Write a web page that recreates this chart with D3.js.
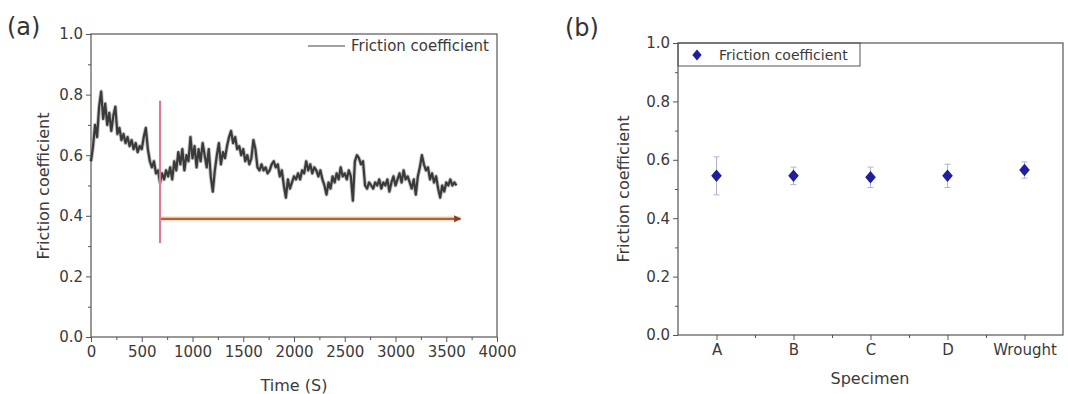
<!DOCTYPE html>
<html><head><meta charset="utf-8">
<script src="https://cdn.jsdelivr.net/npm/d3@7"></script>
<style>
html,body{margin:0;padding:0;background:#fff;}
svg{display:block;font-family:"DejaVu Sans",sans-serif;}
</style></head><body>
<svg id="c" width="1068" height="394"></svg>
<script>
// ---------- Panel (a): friction coefficient vs time ----------
const frictionTime = [0,20,40,60,80,100,120,140,160,180,200,220,240,260,280,300,320,340,360,380,400,420,440,460,480,500,520,540,560,580,600,620,640,660,680,700,720,740,760,780,800,820,840,860,880,900,920,940,960,980,1000,1020,1040,1060,1080,1100,1120,1140,1160,1180,1200,1220,1240,1260,1280,1300,1320,1340,1360,1380,1400,1420,1440,1460,1480,1500,1520,1540,1560,1580,1600,1620,1640,1660,1680,1700,1720,1740,1760,1780,1800,1820,1840,1860,1880,1900,1920,1940,1960,1980,2000,2020,2040,2060,2080,2100,2120,2140,2160,2180,2200,2220,2240,2260,2280,2300,2320,2340,2360,2380,2400,2420,2440,2460,2480,2500,2520,2540,2560,2580,2600,2620,2640,2660,2680,2700,2720,2740,2760,2780,2800,2820,2840,2860,2880,2900,2920,2940,2960,2980,3000,3020,3040,3060,3080,3100,3120,3140,3160,3180,3200,3220,3240,3260,3280,3300,3320,3340,3360,3380,3400,3420,3440,3460,3480,3500,3520,3540,3560,3580,3600];
const frictionValue = [0.58,0.63,0.70,0.66,0.76,0.81,0.72,0.77,0.70,0.74,0.68,0.73,0.76,0.67,0.69,0.65,0.67,0.64,0.66,0.63,0.65,0.62,0.64,0.61,0.63,0.62,0.66,0.69,0.62,0.58,0.56,0.58,0.54,0.55,0.51,0.54,0.52,0.55,0.53,0.56,0.52,0.58,0.55,0.61,0.57,0.62,0.55,0.60,0.58,0.66,0.59,0.63,0.56,0.62,0.58,0.64,0.60,0.56,0.62,0.53,0.48,0.55,0.60,0.64,0.57,0.61,0.59,0.63,0.66,0.68,0.64,0.66,0.62,0.63,0.60,0.62,0.58,0.60,0.57,0.59,0.65,0.62,0.56,0.55,0.57,0.55,0.56,0.54,0.55,0.57,0.58,0.56,0.57,0.53,0.55,0.50,0.46,0.52,0.49,0.51,0.53,0.52,0.54,0.52,0.55,0.54,0.58,0.55,0.57,0.54,0.56,0.55,0.53,0.55,0.52,0.50,0.47,0.51,0.49,0.53,0.51,0.54,0.52,0.56,0.53,0.54,0.52,0.55,0.53,0.45,0.58,0.60,0.59,0.57,0.58,0.50,0.49,0.51,0.50,0.49,0.51,0.50,0.52,0.49,0.51,0.50,0.52,0.48,0.51,0.53,0.50,0.52,0.54,0.51,0.55,0.52,0.53,0.51,0.49,0.52,0.47,0.53,0.56,0.60,0.57,0.55,0.56,0.52,0.54,0.51,0.53,0.49,0.46,0.50,0.48,0.51,0.50,0.52,0.50,0.51,0.50];
const timeTicks = [0,500,1000,1500,2000,2500,3000,3500,4000];
const coefTicks = [0.0,0.2,0.4,0.6,0.8,1.0];
const markerTime = 680;            // red vertical marker
const markerRange = [0.31, 0.78];
const arrowLevel = 0.39;           // steady-state arrow
const arrowRange = [690, 3640];

// ---------- Panel (b): friction coefficient by specimen ----------
const specimens = ["A","B","C","D","Wrought"];
const specimenMean = [0.545,0.545,0.54,0.545,0.565];
const specimenErr  = [0.065,0.03,0.035,0.04,0.028];

const svg = d3.select("#c");
const axisCol = "#555", textCol = "#3a3a3a";

function frame(g, x0, x1, y0, y1){
  g.append("rect").attr("x",x0).attr("y",y1).attr("width",x1-x0).attr("height",y0-y1)
   .attr("fill","none").attr("stroke",axisCol).attr("stroke-width",1.2);
}

// squat diamond symbol (Origin-style)
const squatDiamond = {
  draw(ctx, size){
    const h = Math.sqrt(size)*0.78, w = h*0.85;
    ctx.moveTo(0,-h); ctx.lineTo(w,0); ctx.lineTo(0,h); ctx.lineTo(-w,0); ctx.closePath();
  }
};

// ===== Panel (a) =====
const xa = d3.scaleLinear().domain([0,4000]).range([91,497]);
const ya = d3.scaleLinear().domain([0,1]).range([337,34]);
const ga = svg.append("g");

ga.append("g").attr("transform","translate(0,337)")
  .call(d3.axisBottom(xa).tickValues(d3.range(250,4000,500)).tickSize(3).tickFormat(""))
  .call(g=>g.select(".domain").remove()).selectAll("line").attr("stroke",axisCol);
ga.append("g").attr("transform","translate(91,0)")
  .call(d3.axisLeft(ya).tickValues([0.1,0.3,0.5,0.7,0.9]).tickSize(3).tickFormat(""))
  .call(g=>g.select(".domain").remove()).selectAll("line").attr("stroke",axisCol);

const axA = ga.append("g").attr("transform","translate(0,337)")
  .call(d3.axisBottom(xa).tickValues(timeTicks).tickSize(5).tickPadding(4).tickFormat(d3.format("d")));
const ayA = ga.append("g").attr("transform","translate(91,0)")
  .call(d3.axisLeft(ya).tickValues(coefTicks).tickSize(5).tickPadding(3).tickFormat(d3.format(".1f")));
[axA, ayA].forEach(a=>{
  a.select(".domain").remove();
  a.selectAll("line").attr("stroke",axisCol);
  a.selectAll("text").attr("fill",textCol).style("font-size","15px").style("font-family","DejaVu Sans");
});
frame(ga, 91, 497, 337, 34);

// curve (thick noisy band)
const line = d3.line().x((d,i)=>xa(frictionTime[i])).y(d=>ya(d));
ga.append("path").datum(frictionValue).attr("d",line)
  .attr("fill","none").attr("stroke","#9a9a9a").attr("stroke-width",4).attr("stroke-linejoin","round").attr("opacity",0.6);
ga.append("path").datum(frictionValue).attr("d",line)
  .attr("fill","none").attr("stroke","#3a3a3a").attr("stroke-width",2.2).attr("stroke-linejoin","round");

// red marker line
ga.append("line").attr("x1",xa(markerTime)).attr("x2",xa(markerTime))
  .attr("y1",ya(markerRange[1])).attr("y2",ya(markerRange[0]))
  .attr("stroke","#e07a90").attr("stroke-width",2.2);

// orange arrow
const defs = svg.append("defs");
defs.append("marker").attr("id","ah").attr("viewBox","0 0 10 10").attr("refX",9).attr("refY",5)
  .attr("markerWidth",5.5).attr("markerHeight",3.2).attr("orient","auto").attr("markerUnits","strokeWidth")
  .append("path").attr("d","M0,0L10,5L0,10z").attr("fill","#7e4424");
ga.append("line").attr("x1",xa(arrowRange[0])).attr("x2",xa(arrowRange[1]))
  .attr("y1",ya(arrowLevel)).attr("y2",ya(arrowLevel))
  .attr("stroke","#f7dcc3").attr("stroke-width",5);
ga.append("line").attr("x1",xa(arrowRange[0])).attr("x2",xa(arrowRange[1]))
  .attr("y1",ya(arrowLevel)).attr("y2",ya(arrowLevel))
  .attr("stroke","#a8643e").attr("stroke-width",2.2).attr("marker-end","url(#ah)");

// legend (a)
ga.append("line").attr("x1",308).attr("x2",345).attr("y1",46).attr("y2",46).attr("stroke","#444").attr("stroke-width",1.2);
ga.append("text").attr("x",351).attr("y",51).text("Friction coefficient")
  .attr("fill",textCol).style("font-size","15px");

// labels (a)
ga.append("text").attr("x",294).attr("y",391).attr("text-anchor","middle").text("Time (S)")
  .attr("fill",textCol).style("font-size","16px");
ga.append("text").attr("transform","translate(49,186) rotate(-90)").attr("text-anchor","middle")
  .text("Friction coefficient").attr("fill",textCol).style("font-size","16px");
ga.append("text").attr("x",7).attr("y",35).text("(a)").attr("fill","#333").style("font-size","24px");

// ===== Panel (b) =====
const xb = d3.scalePoint().domain(specimens).range([678,1063]).padding(0.5);
const yb = d3.scaleLinear().domain([0,1]).range([335,43]);
const gb = svg.append("g");

const step = xb.step();
const idScale = d3.scaleLinear().domain([0,1]).range([0,1]);
gb.append("g").attr("transform","translate(0,335)")
  .call(d3.axisBottom(idScale).tickValues(specimens.slice(0,4).map(s=>xb(s)+step/2)).tickSize(3).tickFormat(""))
  .call(g=>g.select(".domain").remove()).selectAll("line").attr("stroke",axisCol);
gb.append("g").attr("transform","translate(678,0)")
  .call(d3.axisLeft(yb).tickValues([0.1,0.3,0.5,0.7,0.9]).tickSize(3).tickFormat(""))
  .call(g=>g.select(".domain").remove()).selectAll("line").attr("stroke",axisCol);

const axB = gb.append("g").attr("transform","translate(0,335)")
  .call(d3.axisBottom(xb).tickSize(5).tickPadding(4));
const ayB = gb.append("g").attr("transform","translate(678,0)")
  .call(d3.axisLeft(yb).tickValues(coefTicks).tickSize(5).tickPadding(3).tickFormat(d3.format(".1f")));
[axB, ayB].forEach(a=>{
  a.select(".domain").remove();
  a.selectAll("line").attr("stroke",axisCol);
  a.selectAll("text").attr("fill",textCol).style("font-size","15px").style("font-family","DejaVu Sans");
});
frame(gb, 678, 1063, 335, 43);

// error bars
const eb = gb.append("g").selectAll("g").data(specimens).join("g");
eb.append("line").attr("x1",d=>xb(d)).attr("x2",d=>xb(d))
  .attr("y1",(d,i)=>yb(specimenMean[i]+specimenErr[i])).attr("y2",(d,i)=>yb(specimenMean[i]-specimenErr[i]))
  .attr("stroke","#aeb2d8").attr("stroke-width",1);
[1,-1].forEach(s=>{
  eb.append("line").attr("x1",d=>xb(d)-3).attr("x2",d=>xb(d)+3)
    .attr("y1",(d,i)=>yb(specimenMean[i]+s*specimenErr[i])).attr("y2",(d,i)=>yb(specimenMean[i]+s*specimenErr[i]))
    .attr("stroke","#aeb2d8").attr("stroke-width",1);
});
gb.append("g").selectAll("path").data(specimens).join("path")
  .attr("transform",(d,i)=>`translate(${xb(d)},${yb(specimenMean[i])})`)
  .attr("d",d3.symbol().type(squatDiamond).size(64)).attr("fill","#1f1f99");

// legend (b)
gb.append("rect").attr("x",678).attr("y",43).attr("width",182).attr("height",23)
  .attr("fill","none").attr("stroke",axisCol).attr("stroke-width",1);
gb.append("path").attr("transform","translate(697,55)").attr("d",d3.symbol().type(squatDiamond).size(50)).attr("fill","#1f1f99");
gb.append("text").attr("x",719).attr("y",60).text("Friction coefficient").attr("fill",textCol).style("font-size","14px");

// labels (b)
gb.append("text").attr("x",870).attr("y",384).attr("text-anchor","middle").text("Specimen")
  .attr("fill",textCol).style("font-size","16px");
gb.append("text").attr("transform","translate(629,189) rotate(-90)").attr("text-anchor","middle")
  .text("Friction coefficient").attr("fill",textCol).style("font-size","16px");
gb.append("text").attr("x",565).attr("y",36).text("(b)").attr("fill","#333").style("font-size","24px");
</script>
</body></html>
